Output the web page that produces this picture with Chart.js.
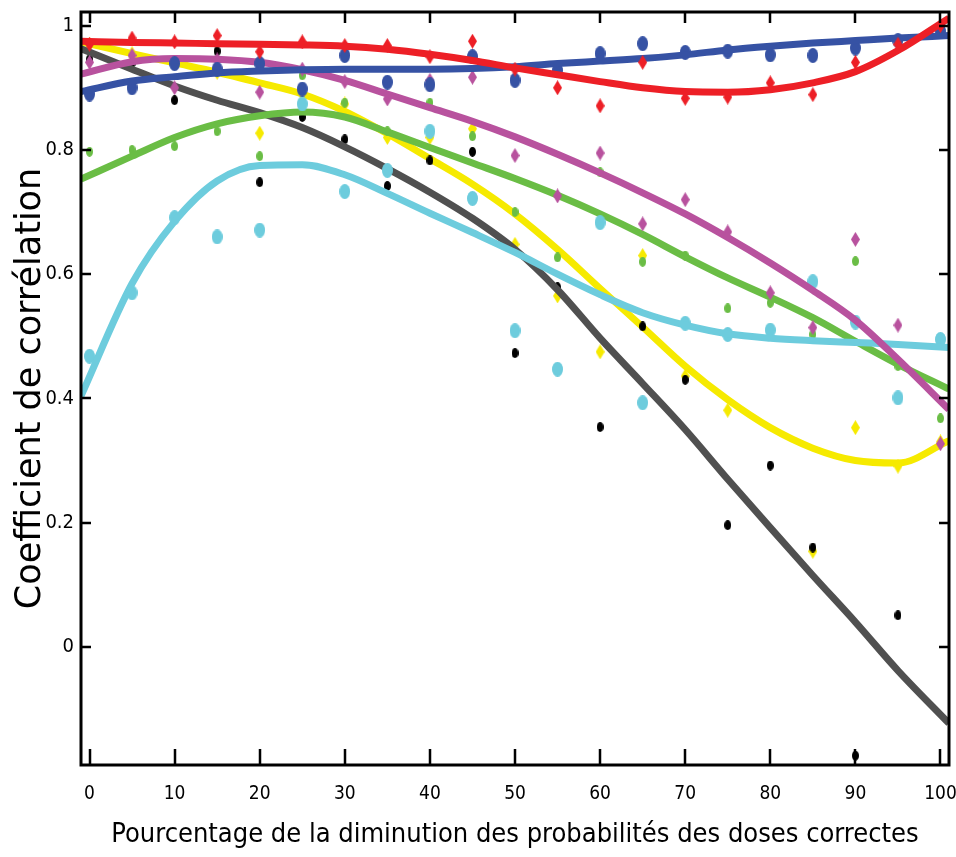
<!DOCTYPE html>
<html>
<head>
<meta charset="utf-8">
<script src="https://cdn.jsdelivr.net/npm/chart.js@4.4.1/dist/chart.umd.min.js"></script>
<style>
  html, body { margin: 0; padding: 0; background: #ffffff; }
  #wrap { width: 956px; height: 857px; }
</style>
</head>
<body>
<div id="wrap"><canvas id="c" width="956" height="857"></canvas></div>
<script>
// Percentage decrease of correct-dose probabilities (x positions of measured points)
const doses = [0, 5, 10, 15, 20, 25, 30, 35, 40, 45, 50, 55, 60, 65, 70, 75, 80, 85, 90, 95, 100];
// x positions of the fitted trend curves (span the full axis)
const fitX = [-1, 5, 10, 15, 20, 25, 30, 35, 40, 45, 50, 55, 60, 65, 70, 75, 80, 85, 90, 95, 101];

const xTicks = [0, 10, 20, 30, 40, 50, 60, 70, 80, 90, 100];
const yTicks = [0, 0.2, 0.4, 0.6, 0.8, 1];

// Measured correlation coefficients
const redPts     = [0.97, 0.98, 0.974, 0.984, 0.958, 0.974, 0.968, 0.968, 0.95, 0.975, 0.93, 0.90, 0.871, 0.941, 0.883, 0.885, 0.908, 0.889, 0.941, 0.97, 1.0];
const bluePts    = [0.89, 0.90, 0.939, 0.93, 0.939, 0.898, 0.952, 0.909, 0.905, 0.95, 0.912, 0.928, 0.955, 0.971, 0.957, 0.959, 0.953, 0.952, 0.964, 0.976, 0.991];
const magentaPts = [0.941, 0.952, 0.90, 0.945, 0.893, 0.93, 0.91, 0.882, 0.912, 0.917, 0.791, 0.726, 0.795, 0.681, 0.72, 0.668, 0.57, 0.514, 0.656, 0.518, 0.327];
const yellowPts  = [0.97, 0.955, 0.94, 0.925, 0.827, 0.89, 0.874, 0.82, 0.82, 0.834, 0.648, 0.565, 0.475, 0.63, 0.436, 0.381, 0.51, 0.154, 0.353, 0.291, 0.33];
const greenPts   = [0.797, 0.80, 0.806, 0.83, 0.79, 0.92, 0.876, 0.83, 0.876, 0.822, 0.70, 0.627, 0.764, 0.62, 0.63, 0.545, 0.554, 0.503, 0.621, 0.452, 0.368];
const cyanPts    = [0.468, 0.57, 0.691, 0.66, 0.671, 0.874, 0.733, 0.767, 0.83, 0.722, 0.509, 0.447, 0.683, 0.393, 0.521, 0.503, 0.51, 0.588, 0.523, 0.401, 0.495];
const blackPts   = [0.946, 0.94, 0.88, 0.959, 0.748, 0.853, 0.817, 0.742, 0.783, 0.797, 0.473, 0.579, 0.354, 0.516, 0.43, 0.196, 0.292, 0.16, -0.175, 0.051, null];

// Fitted trend curves
const redFit     = [0.975, 0.973, 0.972, 0.971, 0.97, 0.969, 0.967, 0.962, 0.954, 0.944, 0.932, 0.921, 0.91, 0.90, 0.894, 0.893, 0.897, 0.908, 0.926, 0.96, 1.012];
const blueFit    = [0.894, 0.911, 0.918, 0.924, 0.927, 0.929, 0.93, 0.93, 0.93, 0.931, 0.934, 0.939, 0.943, 0.947, 0.953, 0.961, 0.967, 0.972, 0.976, 0.98, 0.984];
const magentaFit = [0.922, 0.942, 0.947, 0.946, 0.941, 0.929, 0.912, 0.89, 0.868, 0.846, 0.821, 0.793, 0.763, 0.731, 0.697, 0.659, 0.618, 0.574, 0.526, 0.463, 0.382];
const yellowFit  = [0.974, 0.955, 0.94, 0.925, 0.908, 0.89, 0.862, 0.826, 0.786, 0.745, 0.697, 0.64, 0.577, 0.515, 0.452, 0.398, 0.353, 0.32, 0.30, 0.296, 0.332];
const greenFit   = [0.753, 0.79, 0.82, 0.842, 0.855, 0.861, 0.853, 0.829, 0.804, 0.779, 0.754, 0.727, 0.697, 0.664, 0.628, 0.594, 0.563, 0.53, 0.492, 0.455, 0.415];
const cyanFit    = [0.404, 0.585, 0.685, 0.75, 0.775, 0.776, 0.76, 0.73, 0.698, 0.667, 0.635, 0.60, 0.567, 0.538, 0.518, 0.504, 0.497, 0.493, 0.49, 0.487, 0.482];
const grayFit    = [0.963, 0.93, 0.903, 0.88, 0.86, 0.836, 0.805, 0.77, 0.732, 0.69, 0.64, 0.575, 0.497, 0.424, 0.35, 0.27, 0.192, 0.115, 0.04, -0.038, -0.123];

const COLORS = {
  red: '#ED1F26',
  blue: '#3652A4',
  magenta: '#B8529E',
  yellow: '#F6EA00',
  green: '#6ABD45',
  cyan: '#6DCCDD',
  gray: '#505050',
  black: '#000000'
};

const NARROW = '"Liberation Sans Narrow", "DejaVu Sans Condensed", sans-serif';

// Small bitmap markers: tall ellipses and diamonds
function marker(shape, w, h, color) {
  const c = document.createElement('canvas');
  c.width = w; c.height = h;
  const g = c.getContext('2d');
  g.fillStyle = color;
  g.beginPath();
  if (shape === 'ellipse') {
    g.ellipse(w / 2, h / 2, w / 2, h / 2, 0, 0, Math.PI * 2);
  } else {
    g.moveTo(w / 2, 0); g.lineTo(w, h / 2); g.lineTo(w / 2, h); g.lineTo(0, h / 2); g.closePath();
  }
  g.fill();
  return c;
}

const pairs = (xs, ys) => xs.map((x, i) => ({ x, y: ys[i] }));

function pointSet(values, color, style, order) {
  return {
    type: 'scatter',
    data: pairs(doses, values),
    pointStyle: style,
    pointRadius: 6,
    pointHoverRadius: 6,
    backgroundColor: color,
    borderColor: color,
    showLine: false,
    order
  };
}

function curveSet(values, color, order) {
  return {
    type: 'line',
    data: pairs(fitX, values),
    borderColor: color,
    borderWidth: 7,
    pointRadius: 0,
    pointHoverRadius: 0,
    cubicInterpolationMode: 'monotone',
    fill: false,
    order
  };
}

const datasets = [
  pointSet(yellowPts,  COLORS.yellow,  marker('diamond', 9, 15, COLORS.yellow), 14),
  curveSet(yellowFit,  COLORS.yellow, 13),
  pointSet(blackPts,   COLORS.black,   marker('ellipse', 7, 10, COLORS.black), 12),
  curveSet(grayFit,    COLORS.gray, 11),
  pointSet(greenPts,   COLORS.green,   marker('ellipse', 7, 10, COLORS.green), 10),
  curveSet(greenFit,   COLORS.green, 9),
  pointSet(cyanPts,    COLORS.cyan,    marker('ellipse', 11, 15, COLORS.cyan), 8),
  curveSet(cyanFit,    COLORS.cyan, 7),
  pointSet(magentaPts, COLORS.magenta, marker('diamond', 9, 15, COLORS.magenta), 6),
  curveSet(magentaFit, COLORS.magenta, 5),
  pointSet(bluePts,    COLORS.blue,    marker('ellipse', 11, 15, COLORS.blue), 4),
  curveSet(blueFit,    COLORS.blue, 3),
  pointSet(redPts,     COLORS.red,     marker('diamond', 9, 15, COLORS.red), 2),
  curveSet(redFit,     COLORS.red, 1)
];

// Box frame with inward tick marks on all four sides
const boxFrame = {
  id: 'boxFrame',
  afterDatasetsDraw(chart) {
    const { ctx, chartArea: a, scales } = chart;
    const xs = scales.x, ys = scales.y;
    ctx.save();
    ctx.strokeStyle = '#000';
    ctx.lineWidth = 3;
    ctx.strokeRect(a.left, a.top, a.right - a.left, a.bottom - a.top);
    ctx.lineWidth = 2.5;
    ctx.beginPath();
    xTicks.forEach(v => {
      const px = Math.round(xs.getPixelForValue(v));
      ctx.moveTo(px, a.bottom); ctx.lineTo(px, a.bottom - 16);
      ctx.moveTo(px, a.top); ctx.lineTo(px, a.top + 11);
    });
    yTicks.forEach(v => {
      const py = Math.round(ys.getPixelForValue(v));
      ctx.moveTo(a.left, py); ctx.lineTo(a.left + 10, py);
      ctx.moveTo(a.right, py); ctx.lineTo(a.right - 10, py);
    });
    ctx.stroke();
    ctx.restore();
  }
};

new Chart(document.getElementById('c'), {
  type: 'scatter',
  data: { datasets },
  plugins: [boxFrame],
  options: {
    responsive: false,
    animation: false,
    events: [],
    layout: { padding: { top: 12, right: 7, left: 0, bottom: 0 } },
    plugins: {
      legend: { display: false },
      tooltip: { enabled: false }
    },
    scales: {
      x: {
        type: 'linear',
        min: -1,
        max: 101,
        afterBuildTicks: s => { s.ticks = xTicks.map(v => ({ value: v })); },
        afterFit: s => { s.height = 92; s.paddingLeft = 0; s.paddingRight = 0; },
        grid: { display: false, drawTicks: false },
        border: { display: false },
        ticks: {
          padding: 18,
          maxRotation: 0,
          autoSkip: false,
          color: '#000',
          font: { family: NARROW, size: 19 },
          callback: v => String(v)
        },
        title: {
          display: true,
          text: 'Pourcentage de la diminution des probabilités des doses correctes',
          color: '#000',
          font: { family: NARROW, size: 27 },
          padding: { top: 0, bottom: 6 }
        }
      },
      y: {
        type: 'linear',
        min: -0.19,
        max: 1.022,
        afterBuildTicks: s => { s.ticks = yTicks.map(v => ({ value: v })); },
        afterFit: s => { s.width = 81; s.paddingTop = 0; s.paddingBottom = 0; },
        grid: { display: false, drawTicks: false },
        border: { display: false },
        ticks: {
          padding: 7,
          autoSkip: false,
          color: '#000',
          font: { family: NARROW, size: 20 },
          callback: v => String(v)
        },
        title: {
          display: true,
          text: 'Coefficient de corrélation',
          color: '#000',
          font: { family: '"DejaVu Sans", sans-serif', size: 35 },
          padding: { top: 10, bottom: 0 }
        }
      }
    }
  }
});
</script>
</body>
</html>
